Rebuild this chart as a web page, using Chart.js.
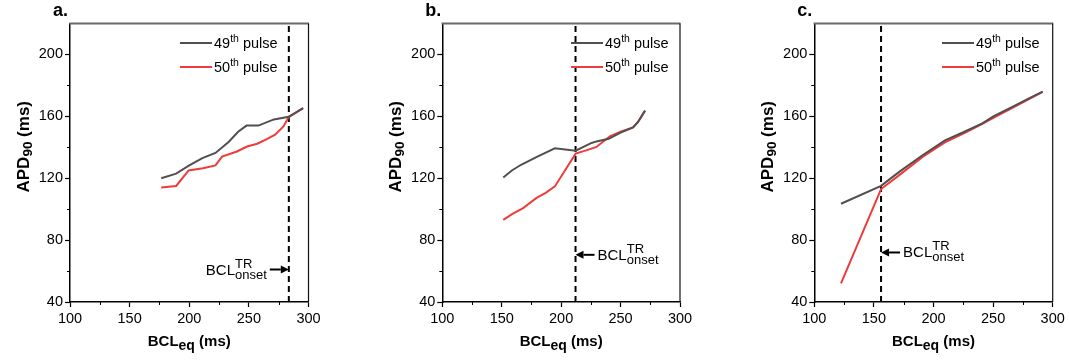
<!DOCTYPE html>
<html><head><meta charset="utf-8">
<script src="https://cdn.jsdelivr.net/npm/chart.js@4.4.1/dist/chart.umd.min.js"></script>
<style>
html,body{margin:0;padding:0;background:#fff;}
#wrap{position:relative;width:1069px;height:360px;overflow:hidden;}
canvas{position:absolute;top:0;}
</style></head><body>
<div id="wrap">
<canvas id="ca" style="left:0px" width="356" height="360"></canvas>
<canvas id="cb" style="left:356px" width="356" height="360"></canvas>
<canvas id="cc" style="left:712px" width="357" height="360"></canvas>
</div>
<script>
// ---------- data ----------
const panelLabels = ['a.', 'b.', 'c.'];
const seriesNames = ['49', '50'];            // "49th pulse", "50th pulse"
const xTicks = [100, 150, 200, 250, 300];
const xMinor = [125, 175, 225, 275];
const yTicks = [40, 80, 120, 160, 200];
const yMinor = [60, 100, 140, 180];

// panel a
const bclA49 = [176.5, 189, 200, 211, 222, 233, 241, 248, 258, 271, 283.5, 295.5];
const apdA49 = [120, 123, 128.3, 133, 136.3, 143.4, 150, 154, 154, 158, 159.7, 165.3];
const bclA50 = [176.5, 189, 199.5, 211.5, 222, 227.5, 240, 248.5, 257, 265, 272, 279, 283.5, 288, 295.5];
const apdA50 = [114, 115, 125, 126.5, 128.3, 134, 137.3, 140.5, 142.3, 145.3, 148.2, 153.5, 159.7, 161.8, 165.3];
// panel b
const bclB49 = [151.3, 158.5, 166.3, 180, 194.7, 212.2, 225.6, 229.7, 240, 250, 260.5, 264.7, 270.6];
const apdB49 = [120.5, 125, 128.7, 134, 139.3, 137.8, 142.8, 143.8, 145.5, 149.5, 152.9, 156.4, 163.7];
const bclB50 = [151.3, 159, 168, 179.3, 187, 194.7, 212.2, 221, 229.7, 241, 250, 260.5, 264.7, 270.6];
const apdB50 = [93.1, 97, 100.7, 107.3, 110.5, 114.7, 135.9, 138, 140.2, 147.1, 150, 152.9, 156.4, 163.7];
// panel c
const bclC49 = [122.4, 156, 171.8, 191.4, 209.6, 225, 241, 250.2, 267, 280.9, 291.6];
const apdC49 = [103.5, 115.1, 124.4, 135.2, 144.5, 149.7, 155.5, 160, 166.5, 171.9, 176];
const bclC50 = [122.4, 156, 171.8, 191.4, 209.6, 225, 241, 250.2, 267, 280.9, 291.6];
const apdC50 = [52.1, 113, 122.3, 134.1, 143.2, 148.8, 155.2, 159, 165.8, 171.5, 175.8];

// onset BCL (dashed line) and APD level of the annotation arrow
const onsetBCL = [283.5, 212.1, 156];
const arrowAPD = [61, 70.5, 72];

// ---------- styling ----------
const FONT = "'Liberation Sans', Arial, Helvetica, sans-serif";
const GRAY = '#505050';
const RED = '#ef3b3b';
Chart.defaults.font.family = FONT;

function pts(xs, ys) { return xs.map((x, i) => ({ x: x, y: ys[i] })); }

function drawRich(ctx, parts, x, y) {
  let cx = x;
  for (const p of parts) {
    ctx.font = (p.bold ? 'bold ' : '') + p.size + 'px ' + FONT;
    ctx.fillText(p.t, cx, y + (p.dy || 0));
    cx += ctx.measureText(p.t).width;
  }
  return cx - x;
}
function richWidth(ctx, parts) {
  let w = 0;
  for (const p of parts) {
    ctx.font = (p.bold ? 'bold ' : '') + p.size + 'px ' + FONT;
    w += ctx.measureText(p.t).width;
  }
  return w;
}

const decor = {
  id: 'decor',
  afterDraw(chart, args, o) {
    const ctx = chart.ctx;
    const ca = chart.chartArea;
    const xs = chart.scales.x, ys = chart.scales.y;
    ctx.save();
    // frame: top (gray) and right (black)
    ctx.strokeStyle = '#6a6a6a'; ctx.lineWidth = 2;
    ctx.beginPath(); ctx.moveTo(ca.left - 0.75, ca.top); ctx.lineTo(ca.right + 0.5, ca.top); ctx.stroke();
    ctx.strokeStyle = '#111'; ctx.lineWidth = 1.2;
    ctx.beginPath(); ctx.moveTo(ca.right, ca.top); ctx.lineTo(ca.right, ca.bottom); ctx.stroke();
    // minor ticks
    ctx.strokeStyle = '#000'; ctx.lineWidth = 1;
    for (const v of xMinor) {
      const px = Math.round(xs.getPixelForValue(v)) + 0.5;
      ctx.beginPath(); ctx.moveTo(px, ca.bottom); ctx.lineTo(px, ca.bottom + 3); ctx.stroke();
    }
    for (const v of yMinor) {
      const py = Math.round(ys.getPixelForValue(v)) + 0.5;
      ctx.beginPath(); ctx.moveTo(ca.left, py); ctx.lineTo(ca.left - 3, py); ctx.stroke();
    }
    ctx.fillStyle = '#000';
    ctx.textBaseline = 'alphabetic';
    ctx.textAlign = 'left';
    // panel label
    ctx.font = 'bold 18px ' + FONT;
    ctx.fillText(o.label, ca.left - 17, 15.5);
    // x title
    const xt = [{ t: 'BCL', size: 15, bold: true }, { t: 'eq', size: 14, bold: true, dy: 4 }, { t: ' (ms)', size: 15, bold: true }];
    const xw = richWidth(ctx, xt);
    drawRich(ctx, xt, (ca.left + ca.right) / 2 - xw / 2, 346);
    // y title (rotated)
    const yt = [{ t: 'APD', size: 17, bold: true }, { t: '90', size: 13.5, bold: true, dy: 3 }, { t: ' (ms)', size: 17, bold: true }];
    const yw = richWidth(ctx, yt);
    ctx.save();
    ctx.translate(ca.left - 41, (ca.top + ca.bottom) / 2 - 16);
    ctx.rotate(-Math.PI / 2);
    drawRich(ctx, yt, -yw / 2, 0);
    ctx.restore();
    // legend
    const ds = chart.data.datasets;
    for (let i = 0; i < 2; i++) {
      const ly = ca.top + 19.5 + i * 24;
      const lx = ca.right + o.legendOffset;
      ctx.strokeStyle = ds[i].borderColor; ctx.lineWidth = 2;
      ctx.beginPath(); ctx.moveTo(lx, ly); ctx.lineTo(lx + 32, ly); ctx.stroke();
      ctx.fillStyle = '#000';
      drawRich(ctx, [{ t: seriesNames[i], size: 14.5 }, { t: 'th', size: 10.5, dy: -6 }, { t: ' pulse', size: 14.5 }], lx + 34, ly + 5);
    }
    // annotation arrow + text
    const tipX = xs.getPixelForValue(o.onset);
    const ay = ys.getPixelForValue(o.arrowY);
    const dir = o.arrowDir;
    const alen = 19, hlen = 8, hh = 4;
    const tail = tipX - dir * alen;
    ctx.strokeStyle = '#000'; ctx.lineWidth = 2;
    ctx.beginPath(); ctx.moveTo(tail, ay); ctx.lineTo(tipX - dir * hlen, ay); ctx.stroke();
    ctx.fillStyle = '#000';
    ctx.beginPath(); ctx.moveTo(tipX, ay); ctx.lineTo(tipX - dir * hlen, ay - hh); ctx.lineTo(tipX - dir * hlen, ay + hh); ctx.closePath(); ctx.fill();
    ctx.font = '15px ' + FONT;
    const wB = ctx.measureText('BCL').width;
    ctx.font = '13px ' + FONT;
    const wS = Math.max(ctx.measureText('onset').width, ctx.measureText('TR').width);
    const total = wB + wS;
    const tx = dir > 0 ? tail - 3 - total : tail + 3;
    const tb = ay + 5;
    ctx.font = '15px ' + FONT; ctx.fillText('BCL', tx, tb);
    ctx.font = '13px ' + FONT;
    ctx.fillText('TR', tx + wB, tb - 7);
    ctx.fillText('onset', tx + wB, tb + 4);
    ctx.restore();
  }
};

function makeChart(id, idx, d49, d50, padL, padR, legendOffset, arrowDir) {
  return new Chart(document.getElementById(id), {
    type: 'line',
    data: {
      datasets: [
        { data: d49, borderColor: GRAY, borderWidth: 2, pointRadius: 0, tension: 0, fill: false },
        { data: d50, borderColor: RED, borderWidth: 2, pointRadius: 0, tension: 0, fill: false },
        { data: [{ x: onsetBCL[idx], y: 40 }, { x: onsetBCL[idx], y: 220 }], borderColor: '#000', borderWidth: 2,
          borderDash: [6, 4], pointRadius: 0, fill: false }
      ]
    },
    options: {
      responsive: false,
      animation: false,
      events: [],
      layout: { padding: { left: padL, right: padR, top: 23.5, bottom: 0 } },
      plugins: {
        legend: { display: false }, tooltip: { enabled: false },
        decor: { label: panelLabels[idx], legendOffset: legendOffset, onset: onsetBCL[idx], arrowY: arrowAPD[idx], arrowDir: arrowDir }
      },
      scales: {
        x: {
          type: 'linear', min: 100, max: 300,
          afterBuildTicks: s => { s.ticks = xTicks.map(v => ({ value: v })); },
          afterFit: s => { s.height = 58; },
          grid: { drawOnChartArea: false, drawTicks: true, tickLength: 5, color: '#000', tickWidth: 1.2 },
          border: { color: '#000', width: 1.5 },
          ticks: { color: '#000', font: { size: 14.5, family: FONT }, padding: 3, maxRotation: 0, autoSkip: false }
        },
        y: {
          type: 'linear', min: 40, max: 220,
          afterBuildTicks: s => { s.ticks = yTicks.map(v => ({ value: v })); },
          afterFit: s => { s.width = 60; },
          grid: { drawOnChartArea: false, drawTicks: true, tickLength: 5, color: '#000', tickWidth: 1.2 },
          border: { color: '#000', width: 1.5 },
          ticks: { color: '#000', font: { size: 14.5, family: FONT }, padding: 2, autoSkip: false }
        }
      }
    },
    plugins: [decor]
  });
}

makeChart('ca', 0, pts(bclA49, apdA49), pts(bclA50, apdA50), 10, 47.5, -128.5, 1);
makeChart('cb', 1, pts(bclB49, apdB49), pts(bclB50, apdB50), 26.3, 32, -109, -1);
makeChart('cc', 2, pts(bclC49, apdC49), pts(bclC50, apdC50), 42.3, 16.3, -110.7, -1);
</script>
</body></html>
